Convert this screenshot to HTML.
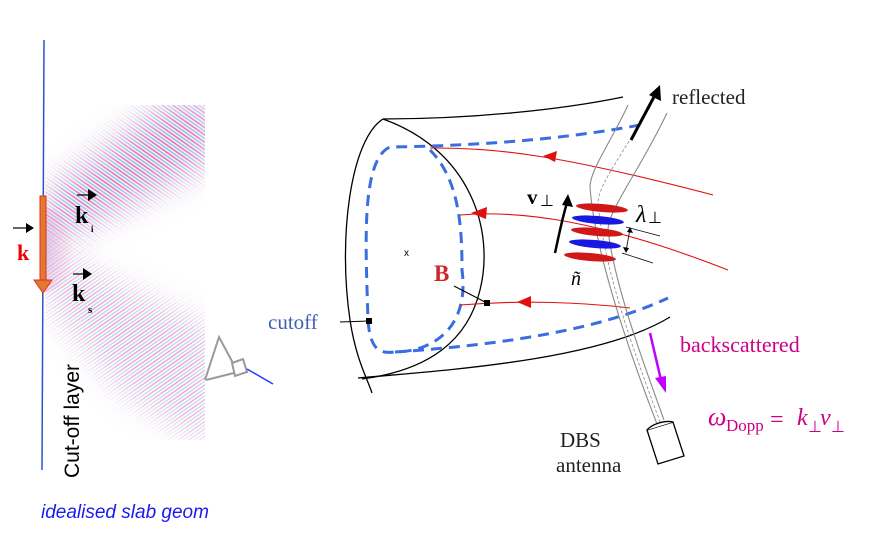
<!DOCTYPE html>
<html><head><meta charset="utf-8"><style>
html,body{margin:0;padding:0;background:#fff;}
svg{display:block;}
text{font-family:"Liberation Serif",serif;}
</style></head><body>
<svg width="884" height="539" viewBox="0 0 884 539" xmlns="http://www.w3.org/2000/svg">
<defs>
  <pattern id="pu" patternUnits="userSpaceOnUse" width="6" height="6" patternTransform="rotate(-55)">
    <rect width="6" height="6" fill="#fff"/>
    <rect x="0" width="1.8" height="6" fill="#e0408a"/>
    <rect x="3" width="1.8" height="6" fill="#6fa4ef"/>
  </pattern>
  <pattern id="pd" patternUnits="userSpaceOnUse" width="6" height="6" patternTransform="rotate(55)">
    <rect width="6" height="6" fill="#fff"/>
    <rect x="0" width="1.5" height="6" fill="#e0408a"/>
    <rect x="3" width="1.5" height="6" fill="#6fa4ef"/>
  </pattern>
  <filter id="bl" x="-50%" y="-50%" width="200%" height="200%"><feGaussianBlur stdDeviation="16"/></filter>
  <mask id="mu"><rect width="884" height="539" fill="#000"/><polygon points="45,195 45,245 110,215 215,160 215,100 170,100" fill="#bbb" filter="url(#bl)"/></mask>
  <mask id="md"><rect width="884" height="539" fill="#000"/><polygon points="45,245 45,300 120,390 215,450 215,330 120,285" fill="#777" filter="url(#bl)"/></mask>
  <clipPath id="cr"><rect x="45" y="105" width="160" height="335"/></clipPath>
  <radialGradient id="rg" cx="0" cy="0.5" r="1">
    <stop offset="0" stop-color="#4060ff" stop-opacity="0.8"/>
    <stop offset="1" stop-color="#ff5090" stop-opacity="0"/>
  </radialGradient>
</defs>

<g clip-path="url(#cr)">
  <rect x="45" y="105" width="160" height="335" fill="url(#pu)" mask="url(#mu)"/>
  <rect x="45" y="105" width="160" height="335" fill="url(#pd)" mask="url(#md)"/>
  <ellipse cx="46" cy="250" rx="28" ry="42" fill="url(#rg)" opacity="0.7"/>
</g>

<line x1="44" y1="40" x2="42" y2="470" stroke="#3050d0" stroke-width="1.5"/>
<rect x="40" y="196" width="6" height="86" fill="#e07a30" stroke="#e03020" stroke-width="1"/>
<polygon points="34,280 52,280 43,293" fill="#e07a30" stroke="#e03020"/>
<text x="17" y="260" font-size="22" font-weight="bold" fill="#e00">k</text>
<line x1="13" y1="228" x2="28" y2="228" stroke="#000" stroke-width="1.2"/><polygon points="26,223 34,228 26,233" fill="#000"/>
<text x="75" y="223" font-size="24" font-weight="bold">k</text>
<text x="91" y="232" font-size="9" font-weight="bold">i</text>
<line x1="77" y1="195" x2="90" y2="195" stroke="#000" stroke-width="1.2"/><polygon points="88,189 97,195 88,201" fill="#000"/>
<text x="72" y="301" font-size="24" font-weight="bold">k</text>
<text x="88" y="313" font-size="11" font-weight="bold">s</text>
<line x1="73" y1="274" x2="85" y2="274" stroke="#000" stroke-width="1.2"/><polygon points="83,268 92,274 83,280" fill="#000"/>
<text transform="translate(79,478) rotate(-90)" font-size="21" style="font-family:'Liberation Sans',sans-serif">Cut-off layer</text>
<g stroke="#999" stroke-width="2" fill="none">
  <polyline points="205,380 219,337 234,365"/>
  <line x1="206" y1="380" x2="234" y2="373"/>
  <polygon points="232,363 243,359 247,372 235,376" fill="#fff"/>
</g>
<line x1="247" y1="369" x2="273" y2="384" stroke="#2040ff" stroke-width="1.5"/>
<text x="41" y="518" font-size="19" font-style="italic" fill="#1a1af0" style="font-family:'Liberation Sans',sans-serif">idealised slab geom</text>

<g fill="none" stroke="#000" stroke-width="1.3">
  <path d="M383,119 C350,140 338,240 350,320 C356,360 368,380 372,393"/>
  <path d="M383,119 C470,150 495,230 480,290 C468,340 430,370 362,379"/>
  <path d="M383,119 C470,119 560,110 623,97"/>
  <path d="M358,378 C450,370 600,360 670,317"/>
</g>
<g fill="none" stroke="#3a6ee0" stroke-width="3" stroke-dasharray="11,7">
  <path d="M640,125 C560,140 470,146 390,147 C360,160 366,250 368,320 C370,350 380,354 395,352 C430,352 470,330 462,270 C462,230 460,180 430,150"/>
  <path d="M395,352 C500,345 600,330 668,298"/>
</g>
<g fill="none" stroke="#e01010" stroke-width="1.1">
  <path d="M430,148 C500,148 560,155 713,195"/>
  <path d="M460,215 C520,210 600,220 728,270"/>
  <path d="M460,305 C520,300 580,302 630,308"/>
</g>
<g fill="#e01010">
  <polygon points="543,156 557,151 555,162"/>
  <polygon points="471,213 487,207 486,219"/>
  <polygon points="517,302 531,296 531,308"/>
</g>
<g fill="none" stroke="#888" stroke-width="1.1">
  <path d="M628,105 C612,140 590,170 590,187 C595,260 640,380 657,424"/>
  <path d="M667,113 C640,170 608,210 608,230 C615,290 650,380 664,420"/>
</g>
<path d="M650,107 C625,150 598,185 598,203 C605,280 645,380 660,422" fill="none" stroke="#888" stroke-width="0.8" stroke-dasharray="3,2"/>
<ellipse cx="602" cy="208" rx="26" ry="4" fill="#d01818" transform="rotate(5 602 208)"/>
<ellipse cx="598" cy="220" rx="26" ry="4" fill="#1818e0" transform="rotate(5 598 220)"/>
<ellipse cx="597" cy="232" rx="26" ry="4" fill="#d01818" transform="rotate(5 597 232)"/>
<ellipse cx="595" cy="244" rx="26" ry="4" fill="#1818e0" transform="rotate(5 595 244)"/>
<ellipse cx="590" cy="257" rx="26" ry="4" fill="#d01818" transform="rotate(5 590 257)"/>
<g stroke="#000" stroke-width="0.8"><line x1="626" y1="227" x2="660" y2="236"/><line x1="622" y1="253" x2="653" y2="263"/><line x1="630" y1="229" x2="626" y2="251"/></g>
<polygon points="630,227 633,233 627,232" fill="#000"/><polygon points="626,253 623,247 629,248" fill="#000"/>
<path d="M555,253 C560,230 563,215 567,203" fill="none" stroke="#000" stroke-width="2.5"/>
<polygon points="568,194 573,207 562,205" fill="#000"/>
<line x1="631" y1="140" x2="655" y2="95" stroke="#000" stroke-width="3"/>
<polygon points="660,85 661,101 649,95" fill="#000"/>
<line x1="650" y1="333" x2="661" y2="380" stroke="#c000ff" stroke-width="2.5"/>
<polygon points="666,393 655,378 666,376" fill="#c000ff"/>
<polygon points="647,430 673,422 684,456 658,464" fill="#fff" stroke="#000" stroke-width="1.3"/>
<path d="M647,430 C652,424 665,420 673,422" fill="#fff" stroke="#000" stroke-width="1.3"/>
<line x1="340" y1="322" x2="369" y2="321" stroke="#000"/><rect x="366" y="318" width="6" height="6" fill="#000"/>
<line x1="454" y1="286" x2="487" y2="303" stroke="#000"/><rect x="484" y="300" width="6" height="6" fill="#000"/>
<text x="404" y="256" font-size="10" style="font-family:'Liberation Sans',sans-serif">x</text>
<text x="268" y="329" font-size="21" fill="#4060b8">cutoff</text>
<text x="434" y="281" font-size="23" font-weight="bold" fill="#d02828">B</text>
<text x="527" y="204" font-size="21" font-weight="bold">v</text><text x="540" y="206" font-size="16">⊥</text>
<text x="636" y="222" font-size="24" font-style="italic">λ</text><text x="648" y="223" font-size="16">⊥</text>
<text x="571" y="285" font-size="20" font-style="italic">ñ</text>
<text x="672" y="104" font-size="21" fill="#222">reflected</text>
<text x="680" y="352" font-size="22" fill="#cc0088">backscattered</text>
<text x="708" y="425" font-size="26" font-style="italic" fill="#cc0088">ω</text>
<text x="726" y="431" font-size="17" fill="#cc0088">Dopp</text>
<text x="770" y="427" font-size="24" fill="#cc0088">=</text>
<text x="797" y="425" font-size="24" font-style="italic" fill="#cc0088">k</text>
<text x="808" y="432" font-size="16" fill="#cc0088">⊥</text>
<text x="820" y="425" font-size="24" font-style="italic" fill="#cc0088">v</text>
<text x="831" y="432" font-size="16" fill="#cc0088">⊥</text>
<text x="560" y="447" font-size="21" fill="#222">DBS</text>
<text x="556" y="472" font-size="21" fill="#222">antenna</text>
</svg>
</body></html>
